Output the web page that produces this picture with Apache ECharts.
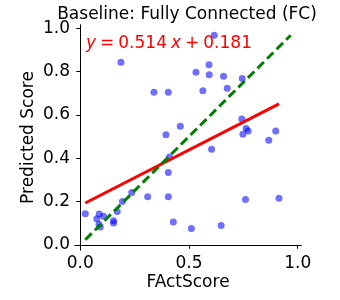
<!DOCTYPE html>
<html><head><meta charset="utf-8">
<script src="https://cdn.jsdelivr.net/npm/echarts@6/dist/echarts.min.js"></script>
<style>html,body{margin:0;padding:0;background:#fff}#c{width:340px;height:300px}</style>
</head><body><div id="c"></div>
<script>
const titleText = 'Baseline: Fully Connected (FC)';
const xName = 'FActScore';
const yName = 'Predicted Score';
const slope = 0.514;
const intercept = 0.181;
const xTicks = [0.0, 0.5, 1.0];
const yTicks = [0.0, 0.2, 0.4, 0.6, 0.8, 1.0];
const xs = [0.023,0.076,0.087,0.107,0.086,0.092,0.153,0.153,0.170,0.194,0.237,0.310,0.405,0.405,0.410,0.394,0.428,
  0.187,0.339,0.405,0.460,0.511,0.616,0.532,0.592,0.593,0.659,0.564,0.676,0.745,0.604,0.743,0.763,0.772,0.748,0.899,0.867,0.760,0.914,0.648];
const ys = [0.143,0.120,0.142,0.132,0.095,0.082,0.111,0.100,0.154,0.200,0.241,0.222,0.222,0.334,0.405,0.508,0.105,
  0.843,0.705,0.705,0.548,0.075,0.968,0.797,0.832,0.785,0.779,0.712,0.723,0.768,0.441,0.581,0.537,0.526,0.511,0.525,0.483,0.209,0.215,0.089];

const pts = xs.map((x,i)=>[x,ys[i]]);
const xmin = Math.min(...xs), xmax = Math.max(...xs);
const all = xs.concat(ys);
const lo = Math.min(...all), hi = Math.max(...all);
const pad = (hi-lo)*0.05;
const axMin = lo-pad, axMax = hi+pad;
const fitLine = [[xmin, slope*xmin+intercept],[xmax, slope*xmax+intercept]];
const diag = [[lo,lo],[hi,hi]];
const F = 'DejaVu Sans';
const FS = 17;
const chart = echarts.init(document.getElementById('c'), null, {renderer:'canvas'});
const frame = {show:true, lineStyle:{color:'#000', width:1}};
const eq = '{i|y}{s|}={s|}' + slope.toFixed(3) + '{s|}{i|x}{s|}+{s|}' + intercept.toFixed(3);
chart.setOption({
  animation:false,
  title:[
    {text:titleText, left:187, top:6, padding:0, textAlign:'center', textStyle:{fontFamily:F, fontSize:FS, fontWeight:'normal', color:'#000'}},
    {text:eq, left:86, top:35, padding:0,
     textStyle:{fontFamily:F, fontSize:FS, fontWeight:'normal', color:'#ff0000',
       rich:{i:{fontFamily:F, fontSize:FS, fontStyle:'italic', color:'#ff0000'}, s:{width:4}}}}
  ],
  grid:{left:75, right:39, top:25, bottom:50},
  xAxis:[{type:'value', min:axMin, max:axMax, position:'bottom',
    name:xName, nameLocation:'middle', nameGap:24, nameMoveOverlap:false,
    nameTextStyle:{fontFamily:F, fontSize:FS, color:'#000'},
    axisLine:frame, splitLine:{show:false},
    axisTick:{show:true, inside:false, length:4, customValues:xTicks, lineStyle:{color:'#000'}},
    axisLabel:{customValues:xTicks, formatter:v=>v.toFixed(1), margin:5, fontFamily:F, fontSize:FS, color:'#000'}},
   {type:'value', min:axMin, max:axMax, position:'top', axisLine:frame, axisTick:{show:false}, axisLabel:{show:false}, splitLine:{show:false}}],
  yAxis:[{type:'value', min:axMin, max:axMax, position:'left',
    name:yName, nameLocation:'middle', nameGap:38, nameRotate:90, nameMoveOverlap:false,
    nameTextStyle:{fontFamily:F, fontSize:FS, color:'#000'},
    axisLine:frame, splitLine:{show:false},
    axisTick:{show:true, inside:false, length:4, customValues:yTicks, lineStyle:{color:'#000'}},
    axisLabel:{customValues:yTicks, formatter:v=>v.toFixed(1), margin:5, fontFamily:F, fontSize:FS, color:'#000'}},
   {type:'value', min:axMin, max:axMax, position:'right', axisLine:frame, axisTick:{show:false}, axisLabel:{show:false}, splitLine:{show:false}}],
  series:[
    {type:'scatter', data:pts, symbolSize:7, itemStyle:{color:'rgba(0,0,255,0.7)'}, z:3},
    {type:'line', data:fitLine, showSymbol:false, symbol:'none', lineStyle:{color:'#ff0000', width:3}, z:4},
    {type:'line', data:diag, showSymbol:false, symbol:'none', lineStyle:{color:'#008000', width:3, type:[9,4.5]}, z:5}
  ]
});
</script></body></html>
